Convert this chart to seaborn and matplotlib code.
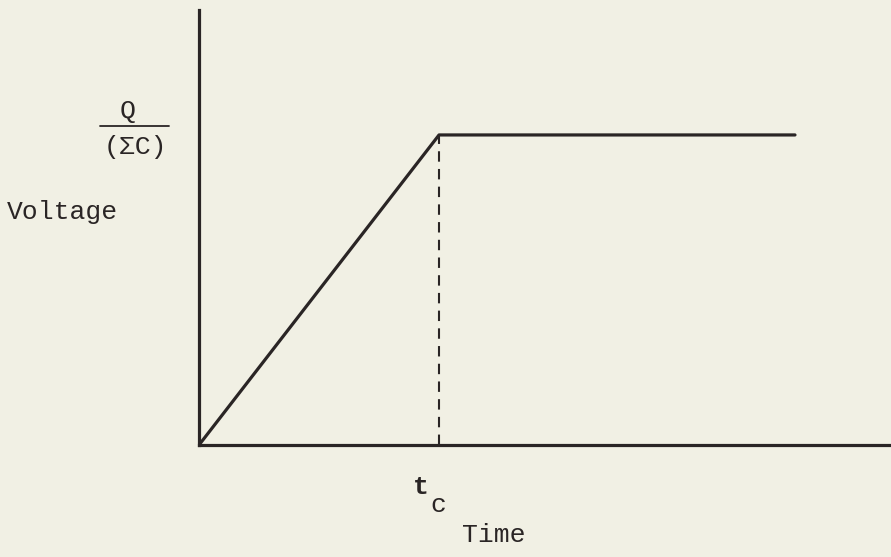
import matplotlib
matplotlib.use("Agg")
import matplotlib.pyplot as plt
import seaborn as sns
import pandas as pd

# Charging curve: linear ramp up to the charging time t_c, then constant Q/(ΣC)
time = [0.0, 1.0, 2.483]
voltage = [0.0, 1.0, 1.0]
t_charge = 1.0
v_final = 1.0

paper = "#f1f0e4"
ink = "#2a2525"
font = ["Liberation Mono", "DejaVu Sans Mono"]

sns.set_theme(style="white")
plt.rcParams["font.family"] = font

W, H = 891, 557
fig = plt.figure(figsize=(W / 100, H / 100), dpi=100, facecolor=paper)
ax = fig.add_axes([199 / W, (H - 445) / H, 1 - 199 / W, (445 - 10) / H])
ax.set_facecolor(paper)

df = pd.DataFrame({"Time": time, "Voltage": voltage})
sns.lineplot(data=df, x="Time", y="Voltage", ax=ax, color=ink, linewidth=2.3,
             estimator=None, sort=False)

# dashed marker of the charging time
ax.vlines(t_charge, 0, v_final, colors=ink, linestyles=(0, (5, 3.5)), linewidth=1.5)

ax.set_xlim(0, 2.883)
ax.set_ylim(0, 1.403)
ax.set_xticks([])
ax.set_yticks([])
ax.set_xlabel("")
ax.set_ylabel("")
for side in ("top", "right"):
    ax.spines[side].set_visible(False)
for side in ("left", "bottom"):
    ax.spines[side].set_color(ink)
    ax.spines[side].set_linewidth(2.3)


def px_text(x, y, s, size=19, **kw):
    fig.text(x / W, 1 - y / H, s, fontsize=size, color=ink, ha="center", va="center",
             family=font, **kw)


px_text(62, 212, "Voltage")
px_text(128, 111, "Q")
fig.add_artist(plt.Line2D([100 / W, 169 / W], [1 - 126 / H, 1 - 126 / H], color=ink, linewidth=1.3))
px_text(135, 147, "(ΣC)")
px_text(421, 487, "t", weight="bold")
px_text(438, 505, "c")
px_text(494, 535, "Time")

fig.savefig("out.png", dpi=100, facecolor=paper)
